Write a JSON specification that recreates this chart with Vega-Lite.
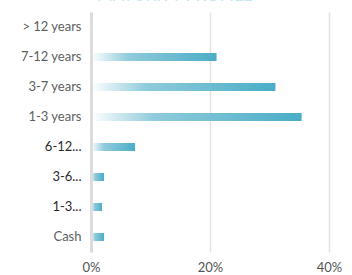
{
  "$schema": "https://vega.github.io/schema/vega-lite/v6.json",
  "autosize": "none",
  "width": 238,
  "height": 240,
  "padding": {"left": 91, "top": 12, "right": 23, "bottom": 23},
  "background": "white",
  "title": {"text": "MATURITY PROFILE", "color": "#c4e6ee", "fontSize": 17, "font": "Lato", "fontWeight": "normal", "offset": 7, "anchor": "start", "frame": "group", "dx": 6},
  "config": {"view": {"stroke": null}, "font": "Lato"},
  "data": {"values": [
    {"bucket": "> 12 years", "share": 0.0},
    {"bucket": "7-12 years", "share": 0.211},
    {"bucket": "3-7 years", "share": 0.310},
    {"bucket": "1-3 years", "share": 0.354},
    {"bucket": "6-12...", "share": 0.074},
    {"bucket": "3-6...", "share": 0.022},
    {"bucket": "1-3...", "share": 0.0185},
    {"bucket": "Cash", "share": 0.022}
  ]},
  "mark": {"type": "bar", "size": 8, "color": {"gradient": "linear", "x1": 0, "x2": 1, "y1": 0, "y2": 0, "stops": [{"offset": 0, "color": "#ffffff"}, {"offset": 0.3, "color": "#8fcbdc"}, {"offset": 1, "color": "#4aadc7"}]}},
  "encoding": {
    "y": {"field": "bucket", "type": "nominal", "sort": null, "title": null,
      "scale": {"paddingInner": 0, "paddingOuter": 0},
      "axis": {"ticks": false, "domain": true, "domainColor": "#dcdcdc", "domainWidth": 3, "zindex": 1, "labelPadding": 10, "labelFontSize": 13, "labelFont": "Lato",
        "labelColor": {"condition": {"test": "indexof(datum.value, '...') >= 0", "value": "#2a2a2a"}, "value": "#606060"}}},
    "x": {"field": "share", "type": "quantitative", "title": null,
      "scale": {"domain": [0, 0.4], "nice": false},
      "axis": {"values": [0, 0.2, 0.4], "format": ".0%", "grid": true, "gridColor": "#e2e2e2", "gridWidth": 1.5, "domain": false, "ticks": false, "labelFlush": false, "labelBound": false, "labelOverlap": false, "labelPadding": 9, "labelFontSize": 13, "labelFont": "Lato", "labelColor": "#555555"}}
  }
}
